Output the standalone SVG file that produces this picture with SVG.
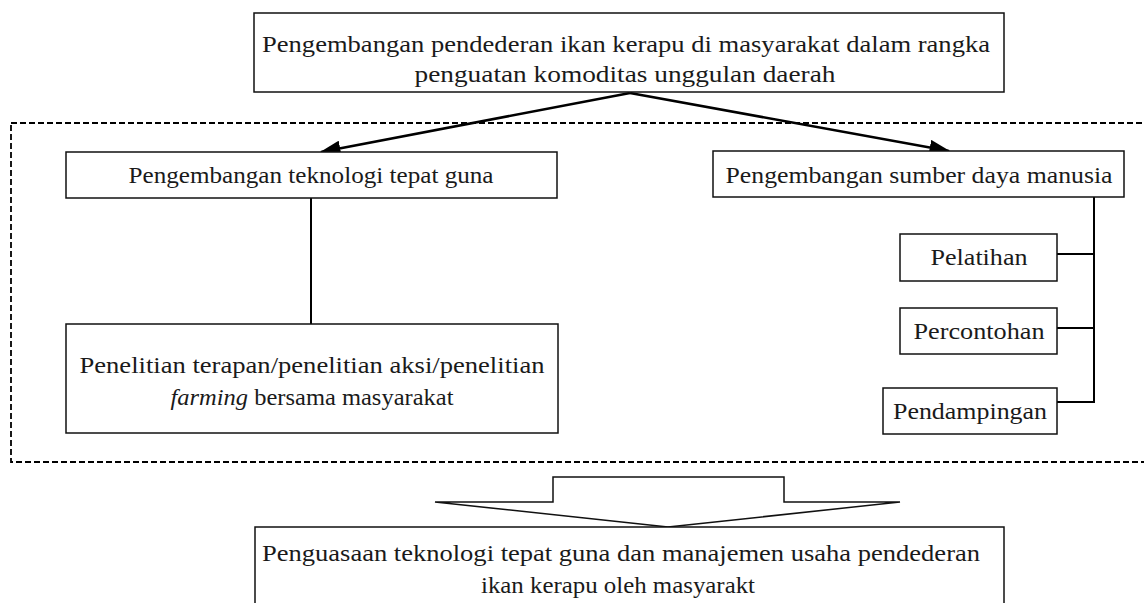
<svg xmlns="http://www.w3.org/2000/svg" width="1144" height="603" viewBox="0 0 1144 603">
<style>
.box{fill:#fff;stroke:#111;stroke-width:1.5}
.t{font-family:"Liberation Serif","Times New Roman",serif;font-size:24px;fill:#1a1a1a;text-anchor:middle}
.ln{fill:none;stroke:#000;stroke-width:2}
.ar{fill:none;stroke:#000;stroke-width:2.6}
.dash{fill:none;stroke:#000;stroke-width:1.8;stroke-dasharray:6 3}
</style>
<defs>
<marker id="ah" markerWidth="8" markerHeight="6" refX="7.5" refY="3" orient="auto" markerUnits="strokeWidth">
<path d="M0,0 L8,3 L0,6 Z" fill="#000"/>
</marker>
</defs>
<rect class="dash" x="11" y="123" width="1150" height="339"/>
<g id="connectors">
<line class="ar" x1="630" y1="93" x2="321" y2="152" marker-end="url(#ah)"/>
<line class="ar" x1="630" y1="93" x2="949" y2="151" marker-end="url(#ah)"/>
<line class="ln" x1="311" y1="198" x2="311" y2="324"/>
<line class="ln" x1="1094" y1="197" x2="1094" y2="403"/>
<line class="ln" x1="1057" y1="254" x2="1094" y2="254"/>
<line class="ln" x1="1057" y1="328" x2="1094" y2="328"/>
<line class="ln" x1="1057" y1="402" x2="1094" y2="402"/>
</g>
<g id="n-top">
<rect class="box" x="254" y="13" width="750" height="79"/>
<text class="t" x="626" y="52" textLength="728" lengthAdjust="spacingAndGlyphs">Pengembangan pendederan ikan kerapu di masyarakat dalam rangka</text>
<text class="t" x="625" y="82" textLength="421" lengthAdjust="spacingAndGlyphs">penguatan komoditas unggulan daerah</text>
</g>
<g id="n-teknologi">
<rect class="box" x="66" y="152" width="491" height="46"/>
<text class="t" x="311" y="183" textLength="365" lengthAdjust="spacingAndGlyphs">Pengembangan teknologi tepat guna</text>
</g>
<g id="n-sdm">
<rect class="box" x="713" y="151" width="411" height="46"/>
<text class="t" x="919" y="183" textLength="387" lengthAdjust="spacingAndGlyphs">Pengembangan sumber daya manusia</text>
</g>
<g id="n-penelitian">
<rect class="box" x="66" y="324" width="492" height="109"/>
<text class="t" x="312" y="373" textLength="465" lengthAdjust="spacingAndGlyphs">Penelitian terapan/penelitian aksi/penelitian</text>
<text class="t" x="312" y="405" textLength="283" lengthAdjust="spacingAndGlyphs"><tspan font-style="italic">farming</tspan> bersama masyarakat</text>
</g>
<g id="n-pelatihan">
<rect class="box" x="900" y="234" width="157" height="47"/>
<text class="t" x="979" y="265" textLength="97" lengthAdjust="spacingAndGlyphs">Pelatihan</text>
</g>
<g id="n-percontohan">
<rect class="box" x="900" y="308" width="157" height="46"/>
<text class="t" x="979" y="339" textLength="131" lengthAdjust="spacingAndGlyphs">Percontohan</text>
</g>
<g id="n-pendampingan">
<rect class="box" x="883" y="388" width="174" height="46"/>
<text class="t" x="970" y="419" textLength="154" lengthAdjust="spacingAndGlyphs">Pendampingan</text>
</g>
<g id="n-blockarrow">
<polygon class="box" points="553,502 553,477 784,477 784,502 900,502 668,527 435,502"/>
</g>
<g id="n-bottom">
<rect class="box" x="255" y="527" width="749" height="90"/>
<text class="t" x="621" y="561" textLength="718" lengthAdjust="spacingAndGlyphs">Penguasaan teknologi tepat guna dan manajemen usaha pendederan</text>
<text class="t" x="618" y="593" textLength="274" lengthAdjust="spacingAndGlyphs">ikan kerapu oleh masyarakt</text>
</g>
</svg>
